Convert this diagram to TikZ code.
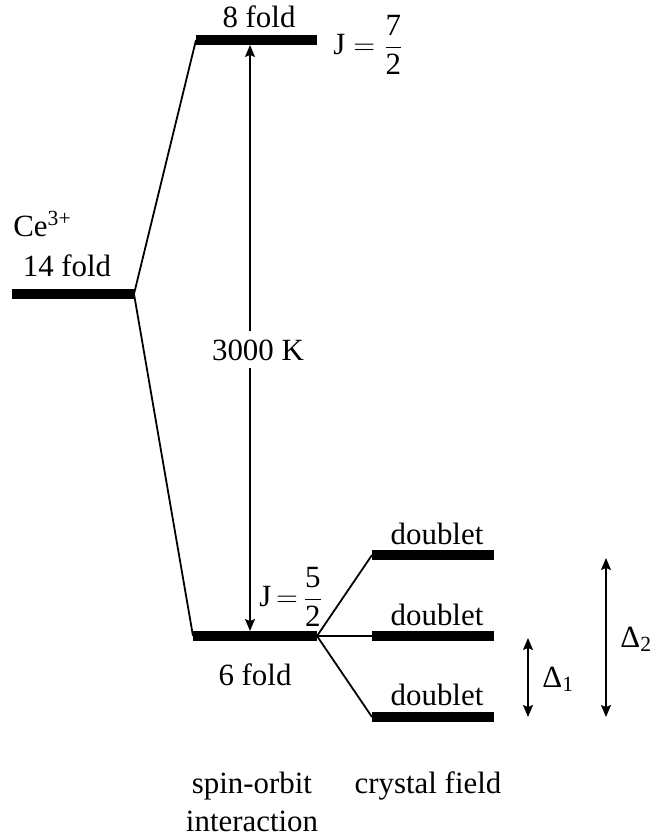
\documentclass[tikz,border=0pt]{standalone}
\usepackage{amsmath}
\usepackage{fontspec}
\setmainfont{Liberation Serif}
\usetikzlibrary{arrows.meta, positioning}

\begin{document}
\begin{tikzpicture}[
  x=0.5bp, y=-0.5bp,
  level/.style = {line width=4.6pt, line cap=butt},
  link/.style  = {line width=0.9pt},
  split/.style = {line width=0.6pt},
  arrow/.style = {{Stealth[length=6pt, width=5pt, inset=1pt]}-{Stealth[length=6pt, width=5pt, inset=1pt]}, line width=0.7pt},
  lbl/.style   = {inner sep=0pt, font=\fontsize{15.5}{18}\selectfont}
]
\useasboundingbox (0,0) rectangle (650,839);
%--- NIVEIS ---
\coordinate (ceW) at (12,294);   \coordinate (ceE) at (134,294);
\coordinate (j7W) at (196,40);   \coordinate (j7E) at (317,40);
\coordinate (j5W) at (193,636);  \coordinate (j5E) at (317,636);
\coordinate (dAW) at (372,555);  \coordinate (dAE) at (494,555);
\coordinate (dBW) at (372,636);  \coordinate (dBE) at (494,636);
\coordinate (dCW) at (372,717);  \coordinate (dCE) at (494,717);
\draw[level] (ceW) -- (ceE);
\draw[level] (j7W) -- (j7E);
\draw[level] (j5W) -- (j5E);
\draw[level] (dAW) -- (dAE);
\draw[level] (dBW) -- (dBE);
\draw[level] (dCW) -- (dCE);
%--- LIGACOES ---
\draw[link]  (ceE) -- (j7W);
\draw[link]  (ceE) -- (j5W);
\draw[link]  (j5E) -- (dAW);
\draw[split] (j5E) -- (dBW);
\draw[link]  (j5E) -- (dCW);
%--- SETAS ---
\coordinate (soTop) at (250,45);  \coordinate (soBot) at (250,631);
\coordinate (d1Top) at (528,638); \coordinate (d1Bot) at (528,717);
\coordinate (d2Top) at (606,558); \coordinate (d2Bot) at (606,717);
\draw[arrow] (soTop) -- (soBot);
\draw[arrow] (d1Top) -- (d1Bot);
\draw[arrow] (d2Top) -- (d2Bot);
%--- TEXTOS ---
\node[lbl, anchor=base west] (ion)    at (13,236)  {Ce\textsuperscript{3+}};
\node[lbl, anchor=base]      (f14)    at (67,276)  {14 fold};
\node[lbl, anchor=base]      (f8)     at (259,27)  {8 fold};
\node[lbl, anchor=west]      (jseven) at (333,45)  {$\text{J} = \dfrac{\text{7}}{\text{2}}$};
\node[lbl, anchor=base, fill=white, inner sep=4pt] (gap) at (258,360) {3000 K};
\node[lbl, anchor=west]      (jfive)  at (259,597) {$\text{J}\,{=}\,\dfrac{\text{5}}{\text{2}}$};
\node[lbl, anchor=base]      (f6)     at (255,685) {6 fold};
\node[lbl, anchor=base]      (dbA)    at (437,544) {doublet};
\node[lbl, anchor=base]      (dbB)    at (437,625) {doublet};
\node[lbl, anchor=base]      (dbC)    at (437,705) {doublet};
\node[lbl, anchor=base west] (delta1) at (542,687) {Δ\textsubscript{1}};
\node[lbl, anchor=base west] (delta2) at (620,647) {Δ\textsubscript{2}};
\node[lbl, anchor=base]      (so1)    at (252,793) {spin-orbit};
\node[lbl, anchor=base]      (so2)    at (252,831) {interaction};
\node[lbl, anchor=base]      (cf)     at (428,793) {crystal field};
\end{tikzpicture}
\end{document}
